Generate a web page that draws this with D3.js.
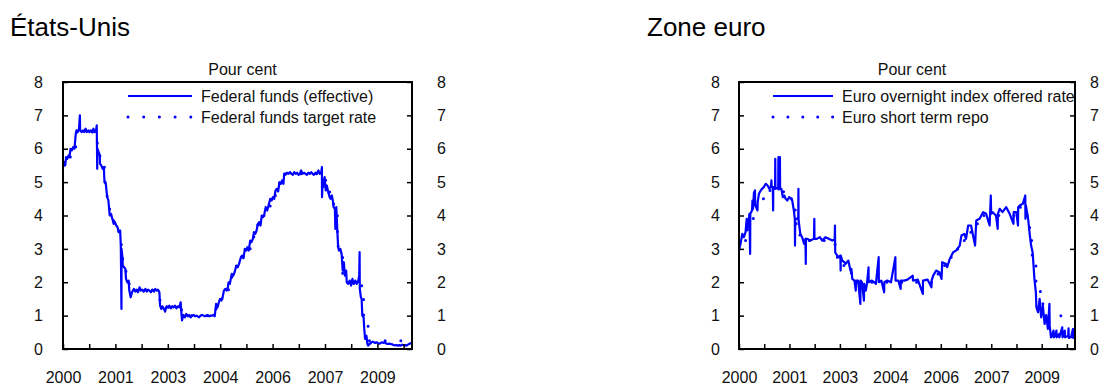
<!DOCTYPE html>
<html>
<head>
<meta charset="utf-8">
<script src="https://cdn.jsdelivr.net/npm/d3@7"></script>
<style>
  body { margin: 0; background: #fff; }
  text { font-family: "Liberation Sans", Arial, sans-serif; }
</style>
</head>
<body>
<svg id="chart" width="1104" height="387"></svg>
<script>
// Federal funds, effective rate
var usEffective = [
  ["2000-01-03",5.45],["2000-01-12",5.60],["2000-01-25",5.50],["2000-02-03",5.75],["2000-02-16",5.70],
  ["2000-03-01",5.80],["2000-03-10",5.75],["2000-03-22",6.00],["2000-04-05",5.95],["2000-04-19",6.05],
  ["2000-05-03",6.00],["2000-05-17",6.45],["2000-05-25",6.55],["2000-06-07",6.50],["2000-06-21",6.60],
  ["2000-06-30",7.00],["2000-07-03",6.55],["2000-07-19",6.50],["2000-08-02",6.55],["2000-08-16",6.50],
  ["2000-08-30",6.60],["2000-09-13",6.50],["2000-09-29",6.55],["2000-10-11",6.50],["2000-10-25",6.55],
  ["2000-11-08",6.50],["2000-11-22",6.60],["2000-12-06",6.50],["2000-12-20",6.55],["2000-12-28",6.70],
  ["2001-01-02",5.40],["2001-01-04",6.00],["2001-01-18",5.90],["2001-01-30",5.80],["2001-02-01",5.55],
  ["2001-02-14",5.50],["2001-03-01",5.40],["2001-03-14",5.45],["2001-03-21",5.00],["2001-04-04",4.95],
  ["2001-04-19",4.55],["2001-05-02",4.45],["2001-05-16",4.00],["2001-05-30",4.05],["2001-06-13",3.90],
  ["2001-06-28",3.75],["2001-07-11",3.80],["2001-07-25",3.70],["2001-08-08",3.65],["2001-08-22",3.50],
  ["2001-09-05",3.55],["2001-09-12",3.10],["2001-09-19",1.20],["2001-09-20",3.00],["2001-10-01",2.70],
  ["2001-10-03",2.50],["2001-10-17",2.45],["2001-10-31",2.40],["2001-11-07",2.10],["2001-11-21",2.00],
  ["2001-12-05",2.05],["2001-12-12",1.75],["2001-12-27",1.55],["2002-01-10",1.70],["2002-01-31",1.80],
  ["2002-02-14",1.72],["2002-03-01",1.78],["2002-03-15",1.70],["2002-04-01",1.85],["2002-04-15",1.75],
  ["2002-05-01",1.78],["2002-05-15",1.72],["2002-06-03",1.80],["2002-06-17",1.72],["2002-07-01",1.78],
  ["2002-07-15",1.75],["2002-08-01",1.70],["2002-08-15",1.78],["2002-09-03",1.72],["2002-09-16",1.80],
  ["2002-10-01",1.75],["2002-10-15",1.78],["2002-10-31",1.70],["2002-11-07",1.30],["2002-11-20",1.20],
  ["2002-12-02",1.28],["2002-12-16",1.22],["2002-12-31",1.12],["2003-01-15",1.28],["2003-02-01",1.25],
  ["2003-02-14",1.30],["2003-03-03",1.22],["2003-03-17",1.28],["2003-04-01",1.25],["2003-04-15",1.30],
  ["2003-05-01",1.22],["2003-05-15",1.28],["2003-06-02",1.25],["2003-06-16",1.40],["2003-06-26",1.00],
  ["2003-07-01",0.86],["2003-07-15",1.02],["2003-08-01",0.95],["2003-08-15",1.05],["2003-09-02",0.98],
  ["2003-09-15",1.02],["2003-10-01",0.95],["2003-10-15",1.00],["2003-11-03",1.02],["2003-11-17",0.98],
  ["2003-12-01",1.00],["2003-12-15",0.98],["2003-12-31",0.95],["2004-01-15",1.00],["2004-02-02",1.02],
  ["2004-02-17",1.00],["2004-03-01",0.98],["2004-03-15",1.00],["2004-04-01",1.02],["2004-04-15",0.98],
  ["2004-05-03",1.00],["2004-05-17",1.00],["2004-06-01",1.02],["2004-06-15",0.98],["2004-06-30",1.35],
  ["2004-07-15",1.25],["2004-07-30",1.40],["2004-08-11",1.50],["2004-08-25",1.45],["2004-09-08",1.55],
  ["2004-09-22",1.75],["2004-10-06",1.80],["2004-10-20",1.75],["2004-11-03",1.85],["2004-11-11",2.00],
  ["2004-11-24",1.95],["2004-12-15",2.25],["2004-12-31",2.20],["2005-01-14",2.30],["2005-02-03",2.50],
  ["2005-02-17",2.45],["2005-03-03",2.55],["2005-03-23",2.75],["2005-04-06",2.80],["2005-04-20",2.72],
  ["2005-05-04",3.00],["2005-05-18",2.95],["2005-06-01",3.05],["2005-06-15",2.95],["2005-07-01",3.25],
  ["2005-07-15",3.20],["2005-07-29",3.30],["2005-08-10",3.50],["2005-08-24",3.45],["2005-09-07",3.55],
  ["2005-09-21",3.75],["2005-10-05",3.80],["2005-10-19",3.70],["2005-11-02",4.00],["2005-11-16",3.95],
  ["2005-11-30",4.05],["2005-12-14",4.25],["2005-12-30",4.15],["2006-01-13",4.30],["2006-02-01",4.50],
  ["2006-02-15",4.45],["2006-03-01",4.55],["2006-03-15",4.50],["2006-03-29",4.75],["2006-04-12",4.80],
  ["2006-04-26",4.72],["2006-05-11",5.00],["2006-05-25",4.95],["2006-06-08",5.05],["2006-06-22",4.95],
  ["2006-06-30",5.25],["2006-07-14",5.22],["2006-08-01",5.28],["2006-08-15",5.25],["2006-09-01",5.30],
  ["2006-09-15",5.25],["2006-10-02",5.22],["2006-10-16",5.30],["2006-11-01",5.25],["2006-11-15",5.28],
  ["2006-12-01",5.22],["2006-12-15",5.25],["2006-12-29",5.35],["2007-01-12",5.25],["2007-02-01",5.28],
  ["2007-02-15",5.25],["2007-03-01",5.22],["2007-03-15",5.28],["2007-04-02",5.25],["2007-04-16",5.30],
  ["2007-05-01",5.25],["2007-05-15",5.22],["2007-06-01",5.28],["2007-06-15",5.25],["2007-07-02",5.35],
  ["2007-07-16",5.25],["2007-08-01",5.28],["2007-08-09",5.45],["2007-08-10",4.55],["2007-08-16",5.00],
  ["2007-08-22",4.85],["2007-08-31",5.05],["2007-09-07",5.15],["2007-09-14",4.90],["2007-09-19",4.75],
  ["2007-10-01",4.90],["2007-10-15",4.70],["2007-10-31",4.55],["2007-11-09",4.50],["2007-11-23",4.60],
  ["2007-12-07",4.40],["2007-12-12",4.25],["2007-12-26",4.20],["2007-12-31",3.60],["2008-01-10",4.25],
  ["2008-01-22",3.50],["2008-01-30",3.05],["2008-02-08",2.95],["2008-02-22",3.00],["2008-03-07",2.85],
  ["2008-03-19",2.35],["2008-03-31",2.60],["2008-04-11",2.20],["2008-04-25",2.35],["2008-05-01",2.00],
  ["2008-05-15",1.95],["2008-06-02",2.05],["2008-06-16",1.90],["2008-07-01",2.10],["2008-07-15",1.95],
  ["2008-08-01",2.05],["2008-08-15",1.95],["2008-09-02",2.05],["2008-09-12",2.20],["2008-09-16",2.90],
  ["2008-09-18",1.80],["2008-09-30",1.55],["2008-10-08",1.50],["2008-10-15",1.00],["2008-10-29",0.95],
  ["2008-11-05",0.60],["2008-11-14",0.30],["2008-11-28",0.40],["2008-12-09",0.15],["2008-12-16",0.10],
  ["2008-12-31",0.15],["2009-01-15",0.18],["2009-02-02",0.22],["2009-02-17",0.20],["2009-03-02",0.18],
  ["2009-03-16",0.20],["2009-04-01",0.18],["2009-04-15",0.16],["2009-05-01",0.18],["2009-05-15",0.20],
  ["2009-06-01",0.18],["2009-06-15",0.20],["2009-07-01",0.16],["2009-07-15",0.15],["2009-08-03",0.16],
  ["2009-08-17",0.15],["2009-09-01",0.14],["2009-09-15",0.12],["2009-10-01",0.11],["2009-10-15",0.12],
  ["2009-11-02",0.10],["2009-11-16",0.12],["2009-12-01",0.10],["2009-12-15",0.13],["2010-01-04",0.11],
  ["2010-01-19",0.12],["2010-02-01",0.10],["2010-02-16",0.13],["2010-03-01",0.15],["2010-03-15",0.17],
  ["2010-03-31",0.18]
];

// Federal funds target rate (date of change, new level)
var usTarget = [
  ["2000-01-01",5.50],["2000-02-02",5.75],["2000-03-21",6.00],["2000-05-16",6.50],["2001-01-03",6.00],
  ["2001-01-31",5.50],["2001-03-20",5.00],["2001-04-18",4.50],["2001-05-15",4.00],["2001-06-27",3.75],
  ["2001-08-21",3.50],["2001-09-17",3.00],["2001-10-02",2.50],["2001-11-06",2.00],["2001-12-11",1.75],
  ["2002-11-06",1.25],["2003-06-25",1.00],["2004-06-30",1.25],["2004-08-10",1.50],["2004-09-21",1.75],
  ["2004-11-10",2.00],["2004-12-14",2.25],["2005-02-02",2.50],["2005-03-22",2.75],["2005-05-03",3.00],
  ["2005-06-30",3.25],["2005-08-09",3.50],["2005-09-20",3.75],["2005-11-01",4.00],["2005-12-13",4.25],
  ["2006-01-31",4.50],["2006-03-28",4.75],["2006-05-10",5.00],["2006-06-29",5.25],["2007-09-18",4.75],
  ["2007-10-31",4.50],["2007-12-11",4.25],["2008-01-22",3.50],["2008-01-30",3.00],["2008-03-18",2.25],
  ["2008-04-30",2.00],["2008-10-08",1.50],["2008-10-29",1.00],["2008-12-16",0.25],["2010-03-31",0.25]
];

// Euro overnight index offered rate
var euEonia = [
  ["2000-01-03",3.00],["2000-01-18",3.15],["2000-02-07",3.45],["2000-02-24",3.35],["2000-03-14",3.50],
  ["2000-03-27",3.90],["2000-03-29",3.55],["2000-04-13",3.75],["2000-04-26",4.05],["2000-05-04",2.85],
  ["2000-05-06",4.05],["2000-05-25",4.15],["2000-05-30",4.45],["2000-06-05",4.20],["2000-06-16",4.70],
  ["2000-06-20",4.30],["2000-06-27",4.75],["2000-06-29",4.30],["2000-07-06",4.30],["2000-07-24",4.15],
  ["2000-07-27",4.40],["2000-08-10",4.65],["2000-08-30",4.75],["2000-09-15",4.80],["2000-10-03",4.85],
  ["2000-10-25",4.95],["2000-11-14",4.90],["2000-12-04",4.80],["2000-12-20",4.85],["2000-12-28",5.05],
  ["2000-12-30",4.85],["2001-01-12",4.85],["2001-01-15",4.15],["2001-01-17",4.85],["2001-02-06",4.80],
  ["2001-02-08",5.70],["2001-02-10",4.80],["2001-02-20",4.82],["2001-03-13",4.80],["2001-03-15",5.75],
  ["2001-03-17",4.78],["2001-03-30",4.80],["2001-04-01",5.75],["2001-04-03",4.80],["2001-04-17",4.80],
  ["2001-05-03",4.55],["2001-05-20",4.60],["2001-06-04",4.50],["2001-06-22",4.45],["2001-07-13",4.55],
  ["2001-08-01",4.50],["2001-08-16",4.45],["2001-09-03",4.15],["2001-09-14",3.90],["2001-09-16",3.10],
  ["2001-09-18",3.90],["2001-10-10",3.90],["2001-10-22",3.95],["2001-10-24",4.80],["2001-10-26",3.85],
  ["2001-11-14",3.45],["2001-12-04",3.35],["2001-12-27",3.15],["2002-01-10",3.30],["2002-01-14",2.55],
  ["2002-01-16",3.30],["2002-01-31",3.30],["2002-03-06",3.25],["2002-04-15",3.30],["2002-04-19",3.90],
  ["2002-04-21",3.30],["2002-05-16",3.30],["2002-06-20",3.35],["2002-07-16",3.25],["2002-08-20",3.35],
  ["2002-09-27",3.30],["2002-11-06",3.25],["2002-12-02",3.28],["2002-12-05",3.70],["2002-12-08",2.90],
  ["2002-12-16",2.85],["2003-01-16",2.75],["2003-02-03",2.80],["2003-02-06",2.35],["2003-02-08",2.80],
  ["2003-02-24",2.65],["2003-03-20",2.60],["2003-04-03",2.55],["2003-05-03",2.65],["2003-05-26",2.35],
  ["2003-06-06",2.40],["2003-06-16",2.10],["2003-07-10",2.05],["2003-07-25",1.75],["2003-07-27",2.05],
  ["2003-08-20",2.05],["2003-09-14",1.35],["2003-09-16",2.05],["2003-10-02",2.00],["2003-10-24",1.45],
  ["2003-10-26",1.95],["2003-11-14",1.75],["2003-11-28",2.00],["2003-12-14",2.45],["2003-12-16",2.00],
  ["2004-01-20",2.05],["2004-02-15",2.00],["2004-03-05",1.95],["2004-04-05",2.75],["2004-04-07",2.00],
  ["2004-05-05",2.05],["2004-06-05",1.70],["2004-06-07",2.00],["2004-07-10",2.05],["2004-08-20",2.00],
  ["2004-10-08",2.75],["2004-10-10",2.05],["2004-11-10",2.05],["2004-12-06",1.80],["2004-12-08",2.05],
  ["2005-01-15",2.05],["2005-02-20",2.08],["2005-04-20",2.20],["2005-04-22",2.05],["2005-06-15",2.08],
  ["2005-08-10",1.65],["2005-08-12",2.05],["2005-10-01",2.08],["2005-11-14",1.85],["2005-11-16",2.05],
  ["2005-12-03",2.20],["2006-01-05",2.35],["2006-02-10",2.30],["2006-03-06",2.10],["2006-03-14",2.60],
  ["2006-04-26",2.55],["2006-05-08",2.45],["2006-06-06",2.70],["2006-07-14",2.90],["2006-08-15",2.95],
  ["2006-09-25",3.10],["2006-10-14",3.40],["2006-11-15",3.45],["2006-12-04",3.30],["2006-12-28",3.70],
  ["2007-01-29",3.70],["2007-03-15",3.10],["2007-03-28",3.85],["2007-05-04",3.90],["2007-06-12",4.10],
  ["2007-07-16",4.05],["2007-08-24",3.70],["2007-09-06",4.60],["2007-09-10",4.05],["2007-09-26",4.10],
  ["2007-11-03",4.00],["2007-11-22",3.60],["2007-11-24",4.05],["2007-12-14",4.20],["2008-01-14",4.10],
  ["2008-02-25",4.25],["2008-04-03",4.05],["2008-05-16",3.75],["2008-05-18",4.10],["2008-06-16",4.10],
  ["2008-07-05",3.70],["2008-07-07",4.25],["2008-07-24",4.30],["2008-08-28",4.35],["2008-09-24",4.60],
  ["2008-09-26",3.90],["2008-10-01",4.30],["2008-10-26",3.90],["2008-11-12",3.45],["2008-11-28",3.10],
  ["2008-12-15",2.90],["2009-01-04",2.10],["2009-01-20",1.70],["2009-01-26",1.25],["2009-02-13",1.10],
  ["2009-03-03",1.50],["2009-03-20",0.95],["2009-04-08",1.30],["2009-04-27",0.75],["2009-05-15",1.00],
  ["2009-06-03",0.60],["2009-06-20",1.35],["2009-06-23",0.70],["2009-07-08",0.35],["2009-07-20",0.38],
  ["2009-08-05",0.55],["2009-08-08",0.35],["2009-08-25",0.40],["2009-09-06",0.55],["2009-09-09",0.35],
  ["2009-10-07",0.45],["2009-10-10",0.35],["2009-11-10",0.65],["2009-11-13",0.35],["2009-12-08",0.55],
  ["2009-12-11",0.35],["2010-01-15",0.40],["2010-01-19",0.62],["2010-01-22",0.33],["2010-02-16",0.35],
  ["2010-03-09",0.60],["2010-03-12",0.33],["2010-03-31",0.60]
];

// ECB short term repo rate (date of change, new level)
var euRepo = [
  ["2000-01-01",3.00],["2000-02-04",3.25],["2000-03-17",3.50],["2000-04-28",3.75],["2000-06-09",4.25],
  ["2000-09-01",4.50],["2000-10-06",4.75],["2001-05-11",4.50],["2001-08-31",4.25],["2001-09-18",3.75],
  ["2001-11-09",3.25],["2002-12-06",2.75],["2003-03-07",2.50],["2003-06-06",2.00],["2005-12-06",2.25],
  ["2006-03-08",2.50],["2006-06-15",2.75],["2006-08-09",3.00],["2006-10-11",3.25],["2006-12-13",3.50],
  ["2007-03-14",3.75],["2007-06-13",4.00],["2008-07-09",4.25],["2008-10-15",3.75],["2008-11-12",3.25],
  ["2008-12-10",2.50],["2009-01-21",2.00],["2009-03-11",1.50],["2009-04-08",1.25],["2009-05-13",1.00],
  ["2010-03-31",1.00]
];

var yTicks = [0, 1, 2, 3, 4, 5, 6, 7, 8];
var xTickLabels = ["2000", "2001", "2003", "2004", "2006", "2007", "2009"];

function drawCharts() {
  var parse = d3.timeParse("%Y-%m-%d");
  var xStart = parse("2000-01-01"), xEnd = parse("2010-04-01");
  // tick marks every 281 days, a label on every second one
  var xTicks = d3.range(14).map(function (k) { return d3.timeDay.offset(xStart, 281 * k); });

  var plotTop = 82, plotBottom = 349;
  var blue = "#0000ff";

  var panels = [
    { id: "us", title: "États-Unis", titleX: 10, left: 63, right: 412, padL: 20, padR: 25,
      solid: usEffective, dotted: usTarget,
      names: ["Federal funds (effective)", "Federal funds target rate"],
      legX: 128, legW: 64, dotGap: 15.7 },
    { id: "eu", title: "Zone euro", titleX: 647, left: 739, right: 1075, padL: 19, padR: 15,
      solid: euEonia, dotted: euRepo,
      names: ["Euro overnight index offered rate", "Euro short term repo"],
      legX: 773, legW: 60, dotGap: 14.9 }
  ];

  var svg = d3.select("#chart");

  panels.forEach(function (p) {
    var x = d3.scaleTime().domain([xStart, xEnd]).range([p.left, p.right]);
    var y = d3.scaleLinear().domain([0, 8]).range([plotBottom, plotTop]);
    var g = svg.append("g");

    g.append("text")
      .attr("x", p.titleX).attr("y", 36)
      .style("font-size", "26px").style("fill", "#000")
      .text(p.title);

    g.append("text")
      .attr("x", (p.left + p.right) / 2 + 5).attr("y", 75)
      .attr("text-anchor", "middle")
      .style("font-size", "16px").style("fill", "#111")
      .text("Pour cent");

    g.append("clipPath").attr("id", "clip-" + p.id)
      .append("rect")
      .attr("x", p.left).attr("y", plotTop)
      .attr("width", p.right - p.left).attr("height", plotBottom - plotTop);

    var line = d3.line()
      .x(function (d) { return x(parse(d[0])); })
      .y(function (d) { return y(d[1]); });
    var step = d3.line()
      .curve(d3.curveStepAfter)
      .x(function (d) { return x(parse(d[0])); })
      .y(function (d) { return y(d[1]); });

    var plot = g.append("g").attr("clip-path", "url(#clip-" + p.id + ")");
    plot.append("path")
      .attr("d", line(p.solid))
      .attr("fill", "none").attr("stroke", blue)
      .attr("stroke-width", 2.2).attr("stroke-linejoin", "round");
    plot.append("path")
      .attr("d", step(p.dotted))
      .attr("fill", "none").attr("stroke", blue)
      .attr("stroke-width", 3).attr("stroke-linecap", "round")
      .attr("stroke-dasharray", "0," + p.dotGap);

    // axes: ticks pointing into the plot
    var axes = [
      g.append("g").attr("transform", "translate(" + p.left + ",0)")
        .call(d3.axisLeft(y).tickValues(yTicks).tickSize(-5).tickPadding(p.padL)),
      g.append("g").attr("transform", "translate(" + p.right + ",0)")
        .call(d3.axisRight(y).tickValues(yTicks).tickSize(-5).tickPadding(p.padR)),
      g.append("g").attr("transform", "translate(0," + plotBottom + ")")
        .call(d3.axisBottom(x).tickValues(xTicks).tickSize(-5).tickPadding(23)
          .tickFormat(function (d, i) { return i % 2 === 0 ? xTickLabels[i / 2] : ""; }))
    ];
    axes.forEach(function (a) {
      a.select(".domain").remove();
      a.selectAll(".tick line").attr("stroke", "#000").attr("stroke-width", 1.5);
      a.selectAll(".tick text")
        .style("font-family", "'Liberation Sans', Arial, sans-serif")
        .style("font-size", "16px").style("fill", "#111");
    });

    g.append("rect")
      .attr("x", p.left).attr("y", plotTop)
      .attr("width", p.right - p.left).attr("height", plotBottom - plotTop)
      .attr("fill", "none").attr("stroke", "#000").attr("stroke-width", 2);

    // legend
    var leg = g.append("g");
    leg.append("line")
      .attr("x1", p.legX).attr("x2", p.legX + p.legW)
      .attr("y1", 96).attr("y2", 96)
      .attr("stroke", blue).attr("stroke-width", 2);
    leg.append("line")
      .attr("x1", p.legX).attr("x2", p.legX + p.legW)
      .attr("y1", 117).attr("y2", 117)
      .attr("stroke", blue).attr("stroke-width", 3)
      .attr("stroke-linecap", "round")
      .attr("stroke-dasharray", "0," + p.dotGap);
    leg.selectAll("text.name").data(p.names).enter()
      .append("text").attr("class", "name")
      .attr("x", p.legX + p.legW + 9)
      .attr("y", function (d, i) { return 102 + i * 21; })
      .style("font-size", "16px").style("fill", "#111")
      .text(function (d) { return d; });
  });
}
drawCharts();
</script>
</body>
</html>
